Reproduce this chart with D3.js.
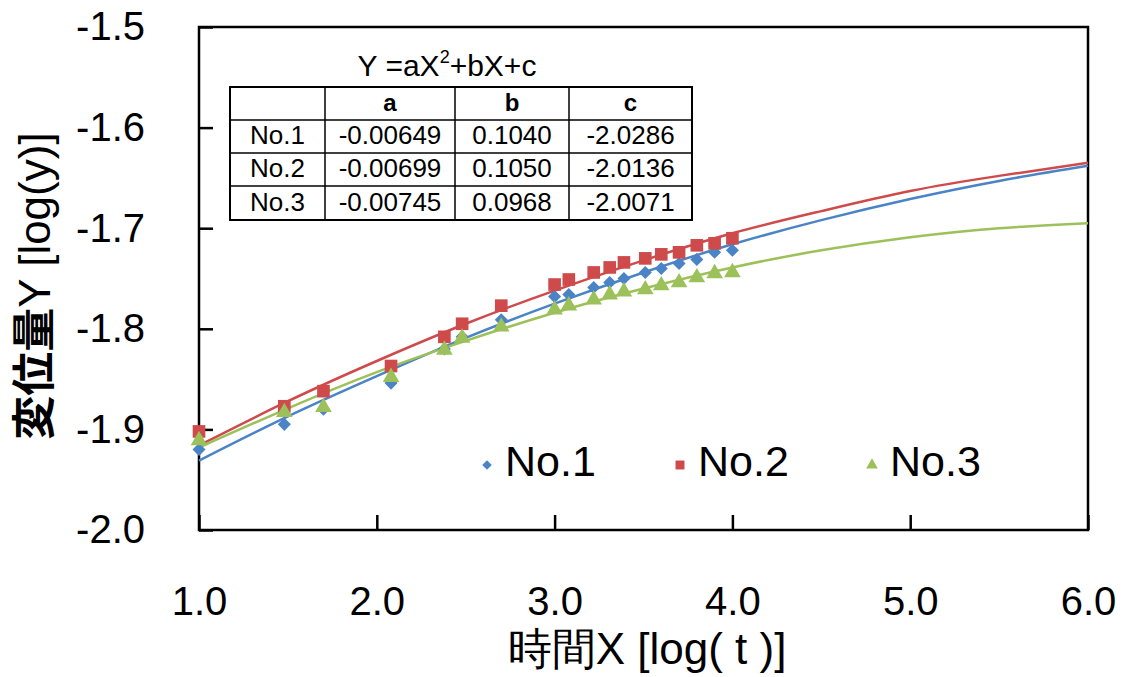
<!DOCTYPE html>
<html>
<head>
<meta charset="utf-8">
<script src="https://cdn.jsdelivr.net/npm/d3@7"></script>
<style>
  body { margin: 0; background: #fff; }
  svg text { font-family: Arial, "Liberation Sans", sans-serif; fill: #000; }
</style>
</head>
<body>
<div id="chart"></div>
<script>
"use strict";

// measured times, log(t)
var timeX = [1.0, 1.48, 1.70, 2.08, 2.38, 2.48, 2.70, 3.0, 3.08, 3.22, 3.31, 3.39, 3.51, 3.60, 3.70, 3.80, 3.90, 4.0];

// displacement, log(y)
var no1Y = [-1.920, -1.895, -1.880, -1.854, -1.820, -1.808, -1.791, -1.768, -1.766, -1.759, -1.754, -1.750, -1.744, -1.740, -1.735, -1.731, -1.724, -1.722];
var no2Y = [-1.902, -1.877, -1.862, -1.837, -1.808, -1.795, -1.777, -1.756, -1.751, -1.744, -1.739, -1.734, -1.730, -1.726, -1.724, -1.717, -1.715, -1.710];
var no3Y = [-1.911, -1.883, -1.878, -1.848, -1.821, -1.809, -1.798, -1.781, -1.777, -1.771, -1.766, -1.763, -1.761, -1.757, -1.754, -1.749, -1.745, -1.744];

// fitted curves, read at every 0.5 on X
var curveX = [1.0, 1.5, 2.0, 2.5, 3.0, 3.5, 4.0, 4.5, 5.0, 5.5, 6.0];
var fit1Y = [-1.931, -1.887, -1.847, -1.809, -1.775, -1.744, -1.716, -1.692, -1.671, -1.653, -1.638];
var fit2Y = [-1.916, -1.872, -1.832, -1.795, -1.762, -1.732, -1.705, -1.683, -1.663, -1.648, -1.635];
var fit3Y = [-1.918, -1.879, -1.843, -1.812, -1.784, -1.760, -1.739, -1.722, -1.709, -1.700, -1.695];

var seriesNames = ["No.1", "No.2", "No.3"];
var seriesColors = ["#4a84c6", "#cf4a4b", "#9dc15a"];

// coefficient table
var tableHead = ["", "a", "b", "c"];
var tableRows = [
    ["No.1", "-0.00649", "0.1040", "-2.0286"],
    ["No.2", "-0.00699", "0.1050", "-2.0136"],
    ["No.3", "-0.00745", "0.0968", "-2.0071"]
];

var xTicks = [1, 2, 3, 4, 5, 6];
var yTicks = [-1.5, -1.6, -1.7, -1.8, -1.9, -2.0];

var W = 1126, H = 677;
var margin = { top: 27, right: 38, bottom: 147, left: 199 };
var width = W - margin.left - margin.right;
var height = H - margin.top - margin.bottom;

var svg = d3.select("#chart").append("svg")
    .attr("width", W)
    .attr("height", H);

var g = svg.append("g")
    .attr("transform", `translate(${margin.left},${margin.top})`);

var x = d3.scaleLinear().domain([1, 6]).range([0, width]);
var y = d3.scaleLinear().domain([-2.0, -1.5]).range([height, 0]);

// frame
g.append("rect")
    .attr("width", width)
    .attr("height", height)
    .attr("fill", "none")
    .attr("stroke", "#000")
    .attr("stroke-width", 2.5);

// axes with inward ticks, plain hyphen for minus
var fmt = d => d.toFixed(1);
var xAxis = g.append("g")
    .attr("transform", `translate(0,${height})`)
    .call(d3.axisBottom(x).tickValues(xTicks).tickSize(-15).tickFormat(fmt).tickPadding(72));
var yAxis = g.append("g")
    .call(d3.axisLeft(y).tickValues(yTicks).tickSize(-14).tickFormat(fmt).tickPadding(54));

[xAxis, yAxis].forEach(function (ax) {
    ax.select(".domain").remove();
    ax.selectAll(".tick line").attr("stroke", "#000").attr("stroke-width", 2.5);
    ax.selectAll(".tick text").attr("font-size", 40).attr("font-family", "Arial, 'Liberation Sans', sans-serif");
});
xAxis.selectAll(".tick text").attr("dy", "0.32em");

// axis titles
svg.append("text")
    .attr("x", 647)
    .attr("y", 652)
    .attr("text-anchor", "middle")
    .attr("dominant-baseline", "middle")
    .attr("font-size", 44)
    .text("時間X [log( t )]");

svg.append("text")
    .attr("transform", "translate(38,286) rotate(-90)")
    .attr("text-anchor", "middle")
    .attr("dominant-baseline", "middle")
    .attr("font-size", 44)
    .html('<tspan font-weight="bold" font-family="Noto Sans CJK JP">変位量</tspan>Y [log(y)]');

// fitted curves
var fits = [fit1Y, fit2Y, fit3Y];
var line = d3.line()
    .x(d => x(d[0]))
    .y(d => y(d[1]))
    .curve(d3.curveNatural);

fits.forEach(function (fy, i) {
    g.append("path")
        .datum(curveX.map((cx, k) => [cx, fy[k]]))
        .attr("fill", "none")
        .attr("stroke", seriesColors[i])
        .attr("stroke-width", 2.5)
        .attr("d", line);
});

// markers
var symbols = [
    d3.symbol().type(d3.symbolSquare).size(85),
    d3.symbol().type(d3.symbolSquare).size(160),
    d3.symbol().type(d3.symbolTriangle).size(120)
];
var rotations = [45, 0, 0];

var allY = [no1Y, no2Y, no3Y];
allY.forEach(function (sy, i) {
    g.append("g").selectAll("path")
        .data(timeX.map((tx, k) => [tx, sy[k]]))
        .join("path")
        .attr("d", symbols[i])
        .attr("fill", seriesColors[i])
        .attr("transform", d => `translate(${x(d[0])},${y(d[1])}) rotate(${rotations[i]})`);
});

// legend
var legendMarkX = [487, 680, 872];
var legendSymbols = [
    d3.symbol().type(d3.symbolSquare).size(45),
    d3.symbol().type(d3.symbolSquare).size(80),
    d3.symbol().type(d3.symbolTriangle).size(60)
];
seriesNames.forEach(function (name, i) {
    svg.append("path")
        .attr("d", legendSymbols[i])
        .attr("fill", seriesColors[i])
        .attr("transform", `translate(${legendMarkX[i]},465) rotate(${rotations[i]})`);
    svg.append("text")
        .attr("x", legendMarkX[i] + 18)
        .attr("y", 465)
        .attr("dominant-baseline", "middle")
        .attr("font-size", 43)
        .text(name);
});

// coefficient table
var colX = [230, 325, 455, 569, 692];
var rowY = [87, 120, 153, 186, 220];

svg.append("text")
    .attr("x", 447)
    .attr("y", 68)
    .attr("text-anchor", "middle")
    .attr("dominant-baseline", "middle")
    .attr("font-size", 30)
    .html('Y =aX<tspan font-size="18" dy="-10">2</tspan><tspan dy="10">+bX+c</tspan>');

var tbl = svg.append("g");
tbl.append("rect")
    .attr("x", colX[0]).attr("y", rowY[0])
    .attr("width", colX[4] - colX[0]).attr("height", rowY[4] - rowY[0])
    .attr("fill", "#fff").attr("stroke", "#000").attr("stroke-width", 2);
colX.slice(1, 4).forEach(function (cx) {
    tbl.append("line").attr("x1", cx).attr("x2", cx).attr("y1", rowY[0]).attr("y2", rowY[4])
        .attr("stroke", "#000").attr("stroke-width", 1.5);
});
rowY.slice(1, 4).forEach(function (ry) {
    tbl.append("line").attr("x1", colX[0]).attr("x2", colX[4]).attr("y1", ry).attr("y2", ry)
        .attr("stroke", "#000").attr("stroke-width", 1.5);
});
[tableHead].concat(tableRows).forEach(function (row, r) {
    row.forEach(function (cell, c) {
        tbl.append("text")
            .attr("x", (colX[c] + colX[c + 1]) / 2)
            .attr("y", (rowY[r] + rowY[r + 1]) / 2 + 1)
            .attr("text-anchor", "middle")
            .attr("dominant-baseline", "middle")
            .attr("font-size", r === 0 ? 24 : 26)
            .attr("font-weight", r === 0 ? "bold" : "normal")
            .text(cell);
    });
});
</script>
</body>
</html>
